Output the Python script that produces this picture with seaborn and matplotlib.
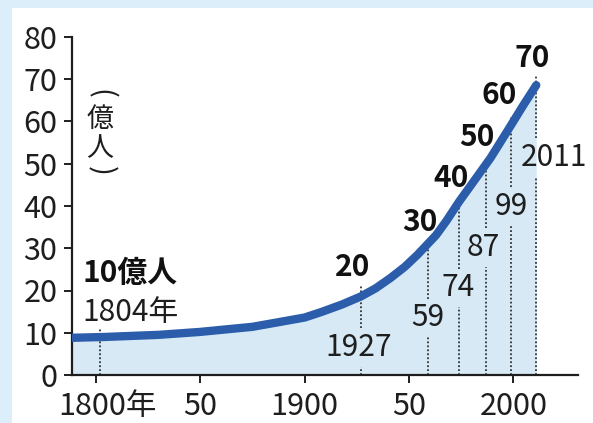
import matplotlib
matplotlib.use('Agg')
import matplotlib.pyplot as plt
import matplotlib.transforms as mtransforms
import seaborn as sns
import pandas as pd
from matplotlib.patches import Rectangle

# ---- data ----
curve_year = [1788, 1804, 1830, 1850, 1875, 1900, 1908, 1918, 1927, 1934, 1941,
              1948, 1954, 1963, 1968, 1974, 1981, 1989, 1998, 2005, 2011]
curve_pop = [8.8, 9.0, 9.5, 10.2, 11.4, 13.6, 14.9, 16.7, 18.6, 20.5, 22.9,
             25.6, 28.4, 33.1, 36.5, 41.0, 45.8, 51.3, 58.4, 64.0, 68.6]

milestone_year = [1804, 1927, 1959, 1974, 1987, 1999, 2011]
milestone_pop = [10, 20, 30, 40, 50, 60, 70]
pop_labels = ['10億人', '20', '30', '40', '50', '60', '70']
year_labels = ['1804年', '1927', '59', '74', '87', '99', '2011']

x_ticks = [1800, 1850, 1900, 1950, 2000]
x_tick_labels = ['1800年', '50', '1900', '50', '2000']
y_ticks = [0, 10, 20, 30, 40, 50, 60, 70, 80]
unit_text = '億\n人'
unit_brackets = ['(', ')']

# ---- layout (not data) ----
year_label_y = [14.7, 6.6, 13.5, 20.6, 30.1, 39.8, 51.4]   # label centres (value units)
year_label_dx = [-22, -2, 0, -1, -3, 0, 18]                 # px
pop_label_off = [(-22, 0), (-8, 23.5), (-8, 26), (-8, 28), (-9, 27), (-12, 26.5), (-4, 21)]

BLUE = '#2b5dab'
FILL = '#d6e9f5'
INK = '#1e1e1e'
PX = 0.72  # points per pixel at 100 dpi

sns.set_theme(style='white')
plt.rcParams['font.family'] = ['Noto Sans CJK JP', 'DejaVu Sans']

W, H = 593, 423
fig = plt.figure(figsize=(W / 100, H / 100), dpi=100)
fig.patch.set_facecolor('#dceef9')
fig.add_artist(Rectangle((12 / W, 0), 1, 1 - 8 / H, transform=fig.transFigure,
                         facecolor='white', edgecolor='none', zorder=-5))

ax = fig.add_axes([72 / W, 1 - 375 / H, (578 - 72) / W, (375 - 37) / H])
ax.set_facecolor('none')

df = pd.DataFrame({'year': curve_year, 'pop': curve_pop})

ax.fill_between(df['year'], 0, df['pop'], color=FILL, lw=0, zorder=1)

# dotted guide lines, broken around the year labels
half = 4.6
for i, (yr, pv, ly) in enumerate(zip(milestone_year, milestone_pop, year_label_y)):
    kw = dict(color='#333333', lw=1.3, ls=(0, (1, 1.2)), zorder=2)
    if i == 0:
        ax.plot([yr - 1.9, yr - 1.9], [0, pv + 1], **kw)
    else:
        ax.plot([yr, yr], [0, max(ly - half, 0)], **kw)
        ax.plot([yr, yr], [ly + half, pv + 1], **kw)

sns.lineplot(data=df, x='year', y='pop', ax=ax, color=BLUE, linewidth=6,
             solid_capstyle='round', zorder=3, legend=False)

# bold population milestones
for i, (yr, pv, lab) in enumerate(zip(milestone_year, milestone_pop, pop_labels)):
    dx, dy = pop_label_off[i]
    if i == 0:
        ax.annotate(lab, xy=(yr, 24.1), xytext=(dx * PX, 0), textcoords='offset points',
                    ha='left', va='center', fontsize=21.5, fontweight='bold', color='#111111')
    else:
        ax.annotate(lab, xy=(yr, pv), xytext=(dx * PX, dy * PX), textcoords='offset points',
                    ha='center', va='center', fontsize=21.5, fontweight='bold', color='#111111')

# year labels
for i, (yr, lab, ly) in enumerate(zip(milestone_year, year_labels, year_label_y)):
    dx = year_label_dx[i]
    ha = 'left' if i == 0 else 'center'
    ax.annotate(lab, xy=(yr, ly), xytext=(dx * PX, 0), textcoords='offset points',
                ha=ha, va='center', fontsize=21.5, color=INK)

# unit label (vertical, with rotated brackets)
ax.text(1802, 57.0, unit_text, ha='center', va='center', fontsize=19.5,
        color=INK, linespacing=1.12)
ax.text(1802, 66.6, unit_brackets[0], ha='center', va='center', fontsize=21,
        color=INK, rotation=-90)
ax.text(1802, 48.3, unit_brackets[1], ha='center', va='center', fontsize=21,
        color=INK, rotation=-90)

ax.set_xlim(1788.6, 2031)
ax.set_ylim(0, 80)
ax.set_xticks(x_ticks)
ax.set_xticklabels(x_tick_labels)
ax.set_yticks(y_ticks)
ax.set_xlabel('')
ax.set_ylabel('')

sns.despine(ax=ax, top=True, right=True)
for s in ['left', 'bottom']:
    ax.spines[s].set_color(INK)
    ax.spines[s].set_linewidth(1.6)
ax.tick_params(axis='both', which='both', direction='out', length=6, width=1.4,
               color=INK, labelcolor=INK, labelsize=22)
ax.tick_params(axis='y', pad=4.5, left=True)
ax.tick_params(axis='x', pad=5.5, bottom=True)

# "1800年": keep the digits centred on the tick, 年 hanging to the right
first = ax.get_xticklabels()[0]
first.set_transform(first.get_transform() +
                    mtransforms.ScaledTranslation(12 / 100, 0, fig.dpi_scale_trans))

fig.savefig('out.png', dpi=100, facecolor=fig.get_facecolor())
